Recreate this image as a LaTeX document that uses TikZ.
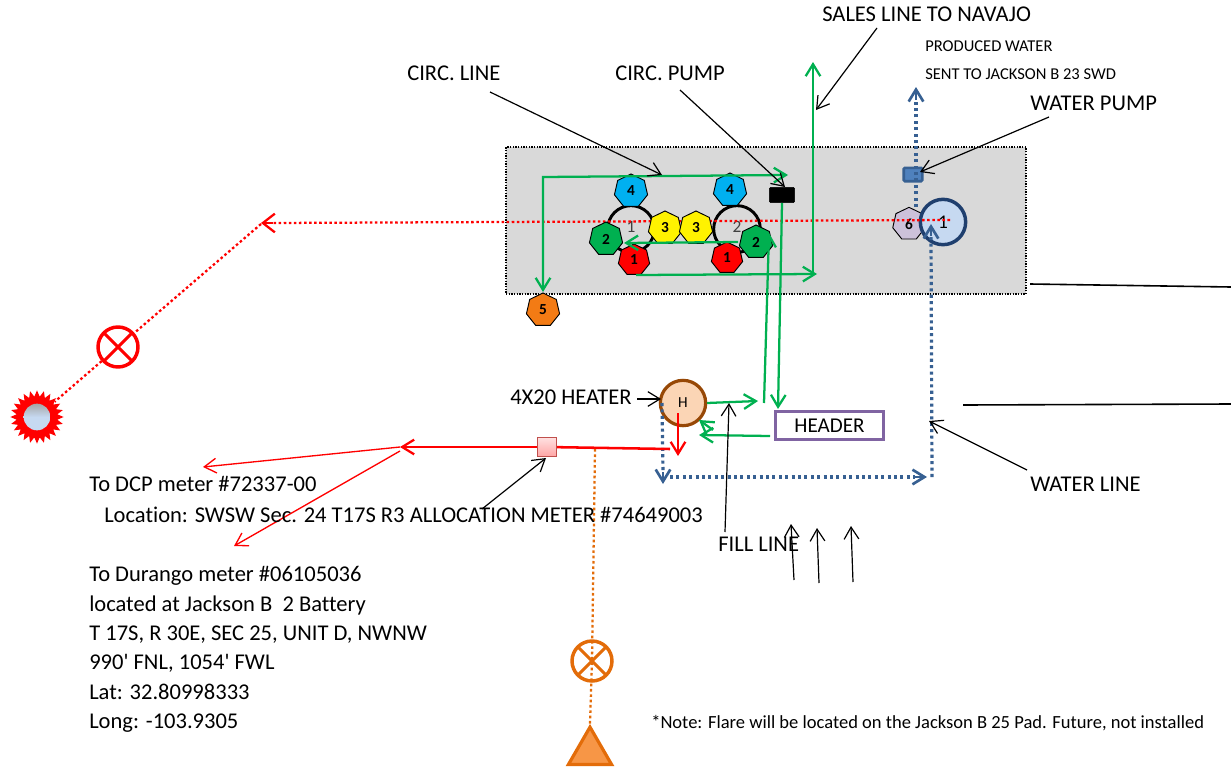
\documentclass[tikz,border=0pt]{standalone}
\usepackage{fontspec}
\setmainfont{Carlito}
\newfontfamily\lblfont{Carlito}[Ligatures=NoCommon]
\usetikzlibrary{arrows.meta,shapes.geometric,shapes.misc}
\definecolor{boxgray}{HTML}{D9D9D9}
\definecolor{linegreen}{HTML}{00B050}
\definecolor{wateblue}{HTML}{376092}
\definecolor{flareorange}{HTML}{E36C09}
\definecolor{hepblue}{HTML}{00B0F0}
\definecolor{heporange}{HTML}{F37B14}
\definecolor{heplilac}{HTML}{CCC1DA}
\definecolor{tankblue}{HTML}{C6D9F1}
\definecolor{tankedge}{HTML}{1F3F6E}
\definecolor{pumpblue}{HTML}{4F81BD}
\definecolor{heateredge}{HTML}{974806}
\definecolor{heaterfill}{HTML}{FBD5B5}
\definecolor{headeredge}{HTML}{8064A2}
\definecolor{meteredge}{HTML}{C0504D}
\definecolor{trifill}{HTML}{F79646}
\tikzset{
  >={Straight Barb[length=9pt,width=11pt]},
  lbl/.style={anchor=base west,yshift=-5pt,inner sep=0pt,font=\fontsize{16.9}{18}\lblfont},
  smalllbl/.style={anchor=base west,yshift=-3.7pt,inner sep=0pt,font=\fontsize{12.4}{14}\lblfont},
  hepta/.style={regular polygon,regular polygon sides=7,draw=black,line width=.7pt,minimum size=24pt,inner sep=0pt,font=\fontsize{11.5}{13}\lblfont\bfseries},
  leader/.style={->,black,line width=.9pt},
  greenline/.style={->,linegreen,line width=1.7pt},
  redline/.style={->,red,line width=1.7pt},
  reddot/.style={red,line width=1.7pt,dash pattern=on 1.9pt off 1.9pt},
  bluedot/.style={wateblue,line width=2.4pt,dash pattern=on 2.3pt off 2.5pt},
  orangedot/.style={flareorange,line width=1.7pt,dash pattern=on 2pt off 2pt},
  vessel/.style={circle,draw=black,line width=2.2pt,minimum size=35pt,inner sep=0pt,font=\fontsize{13}{15}\lblfont},
  valve/.style={draw,cross out,line width=2.2pt,minimum size=20pt,inner sep=0pt},
  valvering/.style={circle,draw,line width=2.6pt,minimum size=30pt,inner sep=0pt}
}
\begin{document}
\begin{tikzpicture}[x=.75pt,y=-.75pt]
  \useasboundingbox (0,0) rectangle (1231,771);
  \node[draw=black,fill=boxgray,line width=1.4pt,dash pattern=on 1pt off 1pt,minimum width=390pt,minimum height=110pt,inner sep=0pt] (battery) at (766,220.5) {};

  \node[vessel] (tank1) at (631,229) {};
  \node[vessel] (tank2) at (737,229) {};
  \node[inner sep=0pt,font=\fontsize{13}{15}\lblfont,text=black!75] (tanklabel1) at (631,227) {1};
  \node[inner sep=0pt,font=\fontsize{13}{15}\lblfont,text=black!75] (tanklabel2) at (737,227) {2};
  \node[hepta,fill=heplilac,minimum size=25pt] (six) at (909,224) {6};
  \node[circle,draw=tankedge,fill=tankblue,line width=2.6pt,minimum size=34pt,inner sep=0pt,font=\fontsize{14.5}{16}\lblfont] (watertank) at (943,222) {1};

  \coordinate (flarearrow) at (261,223);
  \coordinate (flarestub) at (273,223);
  \coordinate (redstart) at (950,220);
  \draw[reddot] (redstart) -- (flarestub);
  \draw[red,line width=1.7pt,-{Straight Barb[length=9pt,width=14pt]}] (flarestub) -- (flarearrow);

  \node[hepta,fill=hepblue,minimum size=25.5pt] (four1) at (631,191) {4};
  \node[hepta,fill=hepblue,minimum size=25.5pt] (four2) at (730,190) {4};
  \node[hepta,fill=linegreen,minimum size=25.5pt] (two1) at (606,239) {2};
  \node[hepta,fill=linegreen,minimum size=25.5pt] (two2) at (756,242) {2};
  \node[hepta,fill=yellow,minimum size=25.5pt] (three1) at (665,228) {3};
  \node[hepta,fill=yellow,minimum size=25.5pt] (three2) at (696,228) {3};
  \node[hepta,fill=red,minimum size=24pt] (one1) at (634,260) {1};
  \node[hepta,fill=red,minimum size=24pt] (one2) at (727,258) {1};
  \node[hepta,fill=heporange,minimum size=25.5pt] (five) at (543,310) {5};

  \node[draw=black,fill=black,rounded corners=1pt,minimum width=19pt,minimum height=11.5pt,inner sep=0pt] (circpump) at (782,195) {};
  \node[draw=wateblue,fill=pumpblue,line width=2pt,rounded corners=1pt,minimum width=14pt,minimum height=10pt,inner sep=0pt] (waterpump) at (913,174.5) {};

  \node[circle,draw=heateredge,fill=heaterfill,line width=2.4pt,minimum size=34pt,inner sep=0pt,font=\fontsize{11.5}{13}\lblfont] (heater) at (683,403) {H};
  \node[draw=headeredge,fill=white,line width=2.4pt,minimum width=81pt,minimum height=21pt,inner sep=0pt,font=\fontsize{15.8}{17}\lblfont] (header) at (829.5,425.5) {HEADER};
  \node[draw=meteredge,top color=red!12,bottom color=red!35,line width=1.2pt,minimum size=14pt,inner sep=0pt] (meter) at (547,447) {};

  \coordinate (circa) at (788,175);
  \coordinate (circb) at (543,177);
  \coordinate (circc) at (543,292);
  \draw[greenline,<->] (circa) -- (circb) -- (circc);
  \coordinate (salesa) at (636,275);
  \coordinate (salesb) at (817,274);
  \coordinate (salesc) at (813,274);
  \coordinate (salesd) at (813,62);
  \draw[greenline] (salesa) -- (salesb);
  \draw[greenline] (salesc) -- (salesd);
  \coordinate (returna) at (738,242);
  \coordinate (returnb) at (624,243);
  \draw[greenline] (returna) -- (returnb);
  \coordinate (pumpout) at (782,203);
  \coordinate (headerin) at (778,409);
  \draw[greenline] (pumpout) -- (headerin);
  \coordinate (filla) at (764,403);
  \coordinate (fillb) at (769,233);
  \draw[greenline] (filla) -- (fillb);
  \coordinate (heatera) at (707,403);
  \coordinate (heaterb) at (758,401);
  \draw[greenline] (heatera) -- (heaterb);
  \coordinate (headera) at (770,436);
  \coordinate (headerb) at (699,435);
  \draw[greenline] (headera) -- (headerb);
  \coordinate (heaterc) at (713,430);
  \coordinate (heaterd) at (699,420);
  \draw[greenline] (heaterc) -- (heaterd);

  \coordinate (waterup) at (916,87);
  \coordinate (waterstub) at (916,100);
  \coordinate (waterlow) at (916,207);
  \draw[bluedot] (waterlow) -- (waterstub);
  \draw[wateblue,line width=2pt,->] (waterstub) -- (waterup);
  \coordinate (bluea) at (662,403);
  \coordinate (blueb) at (663,484);
  \coordinate (bluebstub) at (663,472);
  \coordinate (bluec) at (670,477);
  \coordinate (blued) at (927,477);
  \coordinate (bluedstub) at (915,477);
  \coordinate (bluee) at (932,477);
  \coordinate (bluef) at (931,224);
  \coordinate (bluefstub) at (931,236);
  \draw[bluedot] (bluea) -- (bluebstub);
  \draw[wateblue,line width=2pt,->] (bluebstub) -- (blueb);
  \draw[bluedot] (bluec) -- (bluedstub);
  \draw[wateblue,line width=2pt,->] (bluedstub) -- (blued);
  \draw[bluedot] (bluee) -- (bluefstub);
  \draw[wateblue,line width=2pt,->] (bluefstub) -- (bluef);

  \coordinate (reda) at (670,449);
  \coordinate (redb) at (400,447);
  \draw[red,line width=1.9pt] (reda) -- (meter);
  \draw[redline] (meter) -- (redb);
  \coordinate (redc) at (400,447);
  \coordinate (redd) at (203,467);
  \draw[redline,line width=1pt] (redc) -- (redd);
  \coordinate (rede) at (400,451);
  \coordinate (redf) at (234,546);
  \draw[redline,line width=1pt] (rede) -- (redf);
  \coordinate (redg) at (678,413);
  \coordinate (redh) at (678,456);
  \draw[redline] (redg) -- (redh);

  \node[star,star points=24,star point ratio=1.3,fill=red,minimum size=40pt,inner sep=0pt] (flare) at (37,417) {};
  \node[circle,top color=black!35,bottom color=tankblue,middle color=tankblue,minimum size=20pt,inner sep=0pt] (flarecore) at (37,417) {};
  \node[valvering,red] (redvalve) at (118,347) {};
  \node[valve,red] (redcross) at (118,347) {};
  \coordinate (flarebend) at (261,224);
  \draw[reddot] (flarebend) -- (redvalve);
  \draw[reddot] (redvalve) -- (flare);

  \coordinate (orangea) at (595,449);
  \node[valvering,flareorange] (orangevalve) at (592,661) {};
  \node[valve,flareorange] (orangecross) at (592,661) {};
  \node[isosceles triangle,isosceles triangle apex angle=60,shape border rotate=90,draw=flareorange,fill=trifill,line width=2.4pt,minimum height=28pt,inner sep=0pt] (flaretank) at (590,752) {};
  \draw[orangedot] (orangea) -- (orangevalve.center) -- (flaretank.apex);

  \node[lbl] (saleslabel) at (822,15) {SALES LINE TO NAVAJO};
  \node[smalllbl] (producedlabel) at (925,47) {PRODUCED WATER};
  \node[smalllbl] (sentlabel) at (925,75) {SENT TO JACKSON B 23 SWD};
  \node[lbl] (pumplabel) at (1030,104) {WATER PUMP};
  \node[lbl] (circlabel) at (407,74) {CIRC. LINE};
  \node[lbl] (circpumplabel) at (615,74) {CIRC. PUMP};
  \node[lbl] (heaterlabel) at (510,398) {4X20 HEATER};
  \node[lbl] (dcplabel) at (89,485) {To DCP meter \#72337-00};
  \node[lbl] (locationlabel) at (104,516) {Location: SWSW Sec. 24 T17S R3 ALLOCATION METER \#74649003};
  \node[lbl] (filllabel) at (718,545) {FILL LINE};
  \node[lbl] (waterlabel) at (1030,485) {WATER LINE};
  \node[lbl] (durango1) at (89,575) {To Durango meter \#06105036};
  \node[lbl] (durango2) at (89,604.5) {located at Jackson B\ \ 2 Battery};
  \node[lbl] (durango3) at (89,634) {T 17S, R 30E, SEC 25, UNIT D, NWNW};
  \node[lbl] (durango4) at (89,663) {990' FNL, 1054' FWL};
  \node[lbl] (durango5) at (89,692.5) {Lat: 32.80998333};
  \node[lbl] (durango6) at (89,722) {Long: -103.9305};
  \node[anchor=base west,yshift=-4.2pt,inner sep=0pt,font=\fontsize{13.9}{15}\lblfont] (notelabel) at (651,723) {*Note: Flare will be located on the Jackson B 25 Pad. Future, not installed};

  \coordinate (lead1a) at (877,28);
  \coordinate (lead1b) at (816,110);
  \draw[leader] (lead1a) -- (lead1b);
  \coordinate (lead2a) at (490,92);
  \coordinate (lead2b) at (662,175);
  \draw[leader] (lead2a) -- (lead2b);
  \coordinate (lead3a) at (680,90);
  \coordinate (lead3b) at (785,187);
  \draw[leader] (lead3a) -- (lead3b);
  \coordinate (lead4a) at (1049,117);
  \coordinate (lead4b) at (920,172);
  \draw[leader] (lead4a) -- (lead4b);
  \coordinate (lead5a) at (637,399);
  \coordinate (lead5b) at (661,399);
  \draw[leader] (lead5a) -- (lead5b);
  \coordinate (lead6a) at (725,532);
  \coordinate (lead6b) at (729,403);
  \draw[leader] (lead6a) -- (lead6b);
  \coordinate (lead7a) at (482,509);
  \coordinate (lead7b) at (546,458);
  \draw[leader] (lead7a) -- (lead7b);
  \coordinate (lead8a) at (1027,470);
  \coordinate (lead8b) at (929,421);
  \draw[leader] (lead8a) -- (lead8b);
  \coordinate (uparrow1a) at (794,580);
  \coordinate (uparrow1b) at (791,524);
  \draw[leader] (uparrow1a) -- (uparrow1b);
  \coordinate (uparrow2a) at (819,583);
  \coordinate (uparrow2b) at (817,528);
  \draw[leader] (uparrow2a) -- (uparrow2b);
  \coordinate (uparrow3a) at (853,582);
  \coordinate (uparrow3b) at (851,526);
  \draw[leader] (uparrow3a) -- (uparrow3b);
  \coordinate (rightlinea) at (1030,284);
  \coordinate (rightlineb) at (1231,287);
  \draw[line width=1.2pt] (rightlinea) -- (rightlineb);
  \coordinate (rightlinec) at (963,405);
  \coordinate (rightlined) at (1231,404);
  \draw[line width=1.2pt] (rightlinec) -- (rightlined);
\end{tikzpicture}
\end{document}
